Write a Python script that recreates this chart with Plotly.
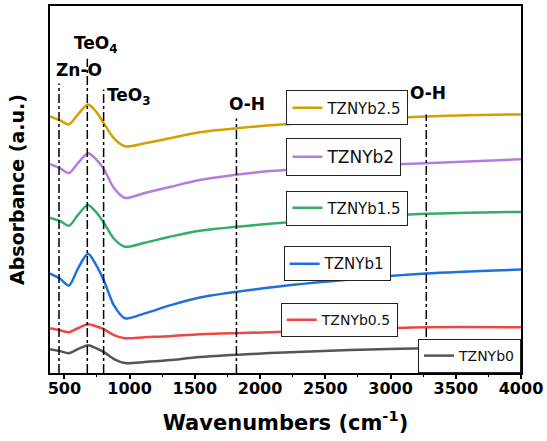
import plotly.graph_objects as go

# Wavenumbers (cm^-1)
wavenumber = [390, 466, 535, 604, 681, 742, 803, 880, 964, 1117, 1309, 1538, 2075, 2687, 3269, 4000]

# Absorbance (a.u., offset traces)
tznyb0 = [24, 22, 20, 24, 28, 25, 21, 14, 10, 11, 13, 16, 20, 23, 25, 26]
tznyb05 = [45, 43, 41, 45, 49, 47, 44, 38, 35, 36, 37, 39, 41, 44, 46, 46]
tznyb1 = [100, 95, 88, 105, 120, 109, 93, 68, 55, 60, 68, 76, 86, 94, 100, 104]
tznyb15 = [156, 153, 148, 159, 169, 162, 151, 135, 127, 131, 137, 143, 150, 156, 160, 162]
tznyb2 = [210, 206, 201, 211, 221, 215, 205, 186, 176, 181, 187, 194, 203, 208, 211, 215]
tznyb25 = [258, 254, 250, 260, 270, 263, 251, 236, 228, 231, 236, 242, 249, 254, 258, 260]

x_tickvals = [500, 1000, 1500, 2000, 2500, 3000, 3500, 4000]

series = [
    ("TZNYb0", tznyb0, "#555555"),
    ("TZNYb0.5", tznyb05, "#F04545"),
    ("TZNYb1", tznyb1, "#1F6FE0"),
    ("TZNYb1.5", tznyb15, "#35AD6A"),
    ("TZNYb2", tznyb2, "#B57CE0"),
    ("TZNYb2.5", tznyb25, "#D4A000"),
]

FONT = "DejaVu Sans"
XRANGE = [390, 4000]

# legend boxes: (legend id, x, y, xanchor, yanchor, font size)
legend_pos = {
    "TZNYb0": ("legend", 1.0, 0.0, "right", "bottom", 14),
    "TZNYb0.5": ("legend2", 0.49, 0.19, "left", "top", 14),
    "TZNYb1": ("legend3", 0.496, 0.345, "left", "top", 15),
    "TZNYb1.5": ("legend4", 0.502, 0.497, "left", "top", 15),
    "TZNYb2": ("legend5", 0.502, 0.64, "left", "top", 17),
    "TZNYb2.5": ("legend6", 0.502, 0.77, "left", "top", 15),
}

# reference lines: (wavenumber, top of line, label, label x, label y)
ref_lines = [
    (459, 291, "Zn-O", 612, 305),
    (676, 316, "TeO<sub>4</sub>", 742, 330),
    (801, 285, "TeO<sub>3</sub>", 995, 278),
    (1819, 256, "O-H", 1898, 270),
    (3274, 260, "O-H", 3284, 282),
]

fig = go.Figure()
layout_legends = {}
for name, vals, color in series:
    lid, lx, ly, xa, ya, fs = legend_pos[name]
    fig.add_trace(go.Scatter(
        x=wavenumber, y=vals, mode="lines", name=name,
        line=dict(color=color, width=2.5, shape="spline", smoothing=0.8),
        legend=lid,
    ))
    layout_legends[lid] = dict(
        x=lx, y=ly, xanchor=xa, yanchor=ya,
        bgcolor="white", bordercolor="#222222", borderwidth=1,
        font=dict(family=FONT, size=fs, color="#111111"),
        itemwidth=30, tracegroupgap=0,
    )

# invisible trace to activate the tick-only overlay axis
fig.add_trace(go.Scatter(x=XRANGE, y=[None, None], xaxis="x2", showlegend=False,
                         hoverinfo="skip", mode="lines"))

for wx, top, label, lx, ly in ref_lines:
    fig.add_shape(type="line", x0=wx, x1=wx, y0=0, y1=top, xref="x", yref="y",
                  line=dict(color="black", width=1.5, dash="dashdot"))
    fig.add_annotation(x=lx, y=ly, xref="x", yref="y", text=label, showarrow=False,
                       font=dict(family=FONT, size=17, color="black", weight="bold"))

fig.update_layout(
    width=547, height=441,
    margin=dict(l=50, r=25, t=4, b=68),
    plot_bgcolor="white", paper_bgcolor="white",
    showlegend=True,
    xaxis2=dict(
        overlaying="x", side="bottom", range=XRANGE, showline=False,
        ticks="outside", ticklen=5, tickwidth=1.5, tickcolor="black",
        tickvals=x_tickvals, showticklabels=False, showgrid=False, zeroline=False,
        minor=dict(ticks="outside", ticklen=3, tickwidth=1, tickcolor="black", dtick=250, tick0=0),
    ),
    **layout_legends,
)

fig.layout.xaxis.update(
    range=XRANGE, showline=True, linecolor="black", linewidth=2, mirror=True,
    ticks="", tickvals=x_tickvals,
    showgrid=False, zeroline=False,
    tickfont=dict(family=FONT, size=16, color="black", weight="bold"),
    title=dict(text="Wavenumbers (cm<sup>-1</sup>)",
               font=dict(family=FONT, size=21, color="black", weight="bold"), standoff=18),
)
fig.update_yaxes(
    range=[0, 369], showline=True, linecolor="black", linewidth=2, mirror=True,
    showticklabels=False, ticks="", showgrid=False, zeroline=False,
    title=dict(text="Absorbance (a.u.)",
               font=dict(family=FONT, size=19, color="black", weight="bold"), standoff=18),
)

fig.write_html("out.html")
